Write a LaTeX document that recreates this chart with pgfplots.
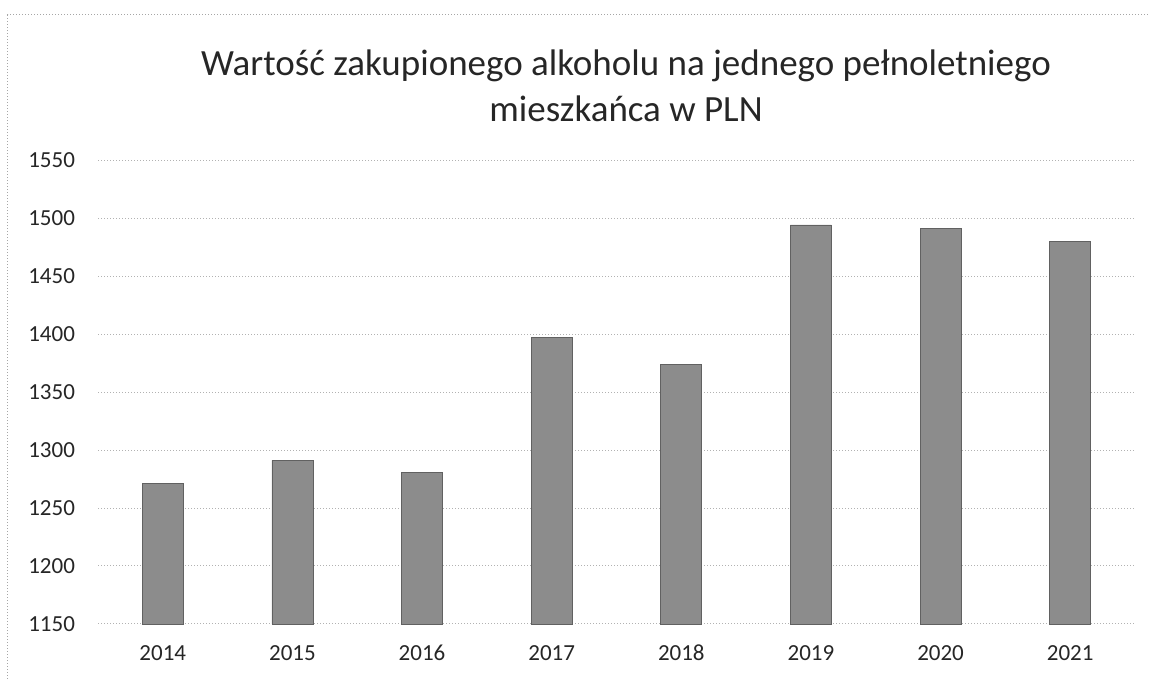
\documentclass[border=0pt]{standalone}
\usepackage{fontspec}
\setmainfont{Carlito}
\usepackage{pgfplots}
\pgfplotsset{compat=1.18}
\begin{document}
\begin{tikzpicture}
\useasboundingbox (-49pt,-27.5pt) rectangle (526pt,312pt);
\draw[black!35, densely dotted, line width=0.5pt] (-45pt,-27.5pt) -- (-45pt,304.5pt) -- (526pt,304.5pt);
\begin{axis}[
  at={(0pt,0pt)}, anchor=south west,
  scale only axis,
  width=518.5pt, height=232pt,
  xmin=-0.5, xmax=7.5,
  ymin=1150, ymax=1550,
  ytick={1150,1200,...,1550},
  xtick={0,1,2,3,4,5,6,7},
  xticklabels={2014,2015,2016,2017,2018,2019,2020,2021},
  axis line style={draw=none},
  major tick length=0pt,
  ymajorgrids,
  grid style={black!30, line width=0.5pt, densely dotted},
  /pgf/number format/assume math mode=true,
  /pgf/number format/1000 sep={},
  tick label style={font=\fontsize{11.5}{13}\selectfont, text=black!85},
  y tick label style={xshift=-8pt},
  x tick label style={anchor=base, yshift=-18.5pt},
  clip=false,
]
\addplot[ybar, bar width=20.5pt, fill=black!45, draw=black!62, line width=0.4pt]
  coordinates {(0,1271) (1,1291) (2,1281) (3,1397) (4,1374) (5,1494) (6,1491) (7,1480)};
\end{axis}
\node[anchor=base, font=\fontsize{18.5}{22}\selectfont, text=black!85] at (264pt,274pt) {Wartość zakupionego alkoholu na jednego pełnoletniego};
\node[anchor=base, font=\fontsize{18.5}{22}\selectfont, text=black!85] at (264pt,251pt) {mieszkańca w PLN};
\end{tikzpicture}
\end{document}
